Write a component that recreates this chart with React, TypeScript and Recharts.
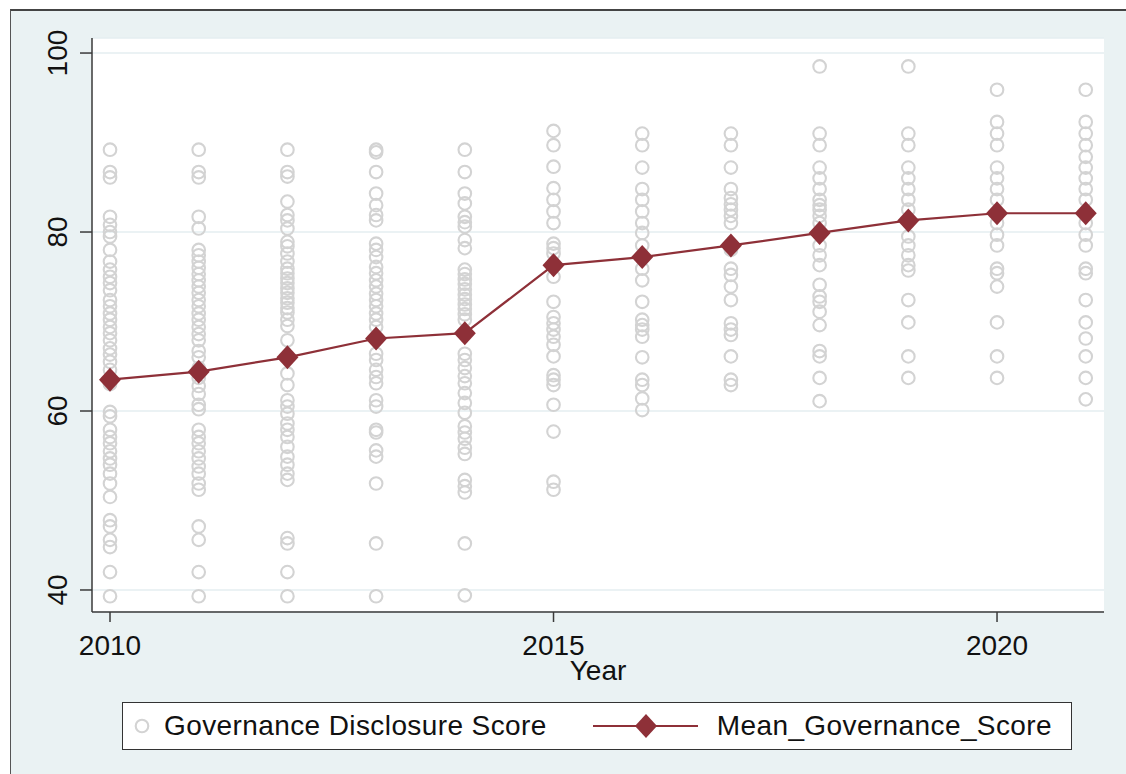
import React from 'react'
import { ComposedChart, Scatter, Line, XAxis, YAxis, CartesianGrid } from 'recharts'

const years = [2010, 2011, 2012, 2013, 2014, 2015, 2016, 2017, 2018, 2019, 2020, 2021]

const meanScore = [63.5, 64.4, 66.0, 68.1, 68.7, 76.3, 77.2, 78.5, 79.9, 81.3, 82.1, 82.1]

const scores2010 = [89.2, 86.7, 86.1, 81.7, 80.8, 80.0, 79.5, 78.0, 76.7, 75.8, 75.0, 74.3, 73.5, 72.4, 71.7, 70.9, 70.2, 69.4, 68.7, 67.9, 67.0, 66.3, 65.5, 64.6, 63.0, 59.9, 59.4, 57.9, 57.1, 56.4, 55.5, 54.7, 54.0, 53.0, 51.9, 50.4, 47.8, 47.1, 45.6, 44.8, 42.0, 39.3]
const scores2011 = [89.2, 86.7, 86.1, 81.7, 80.4, 78.0, 77.4, 76.7, 76.0, 75.3, 74.6, 73.9, 73.2, 72.4, 71.7, 70.9, 70.2, 69.4, 68.6, 67.9, 66.7, 66.0, 64.8, 63.7, 62.8, 61.9, 60.7, 60.2, 57.9, 57.1, 56.4, 55.5, 54.7, 53.8, 53.0, 51.9, 51.2, 47.1, 45.6, 42.0, 39.3]
const scores2012 = [89.2, 86.7, 86.2, 83.4, 81.9, 81.3, 80.4, 78.9, 78.4, 77.6, 76.7, 75.9, 75.4, 74.8, 74.3, 73.7, 73.2, 72.6, 72.1, 71.5, 71.0, 70.2, 69.5, 67.9, 64.2, 62.9, 61.2, 60.5, 59.7, 58.6, 57.9, 57.1, 56.0, 54.9, 54.0, 53.0, 52.3, 45.8, 45.2, 42.0, 39.3]
const scores2013 = [89.2, 88.9, 86.7, 84.3, 83.0, 81.9, 81.3, 78.7, 78.0, 77.2, 76.1, 75.4, 74.6, 73.9, 73.1, 72.4, 71.7, 70.9, 70.2, 69.4, 66.4, 65.7, 64.6, 63.8, 63.1, 61.2, 60.5, 57.9, 57.6, 55.6, 54.9, 51.9, 45.2, 39.3]
const scores2014 = [89.2, 86.7, 84.3, 83.2, 81.7, 81.1, 80.6, 79.1, 78.2, 75.8, 75.3, 74.7, 74.2, 73.6, 73.0, 72.5, 71.9, 71.4, 70.8, 70.2, 66.4, 65.7, 64.8, 63.9, 63.1, 62.0, 60.9, 59.8, 58.3, 57.6, 56.9, 55.9, 55.2, 52.3, 51.6, 50.9, 45.2, 39.4]
const scores2015 = [91.3, 89.7, 87.3, 84.9, 83.6, 82.3, 81.0, 78.7, 78.2, 77.6, 75.0, 72.2, 70.5, 69.8, 69.1, 68.3, 67.4, 66.1, 64.0, 63.5, 62.9, 60.7, 57.7, 52.1, 51.2]
const scores2016 = [91.0, 89.7, 87.2, 84.8, 83.6, 82.3, 81.0, 79.9, 78.5, 75.9, 74.6, 72.2, 70.2, 69.6, 69.1, 68.3, 66.0, 63.5, 62.9, 61.4, 60.1]
const scores2017 = [91.0, 89.7, 87.2, 84.8, 83.8, 83.1, 82.5, 81.8, 81.0, 78.0, 75.9, 75.2, 73.9, 72.4, 69.8, 69.1, 68.5, 66.1, 63.5, 62.9]
const scores2018 = [98.5, 91.0, 89.7, 87.2, 86.0, 84.8, 83.6, 83.0, 82.5, 81.8, 81.0, 78.5, 77.4, 76.3, 74.1, 72.8, 72.2, 71.1, 69.6, 66.7, 66.1, 63.7, 61.1]
const scores2019 = [98.5, 91.0, 89.7, 87.2, 86.0, 84.8, 83.6, 82.5, 79.5, 78.5, 77.4, 76.3, 75.7, 72.4, 69.9, 66.1, 63.7]
const scores2020 = [95.9, 92.3, 91.0, 89.7, 87.2, 86.0, 84.8, 83.6, 81.0, 79.7, 78.5, 75.9, 75.4, 73.9, 69.9, 66.1, 63.7]
const scores2021 = [95.9, 92.3, 91.0, 89.7, 88.4, 87.2, 86.0, 84.8, 83.6, 81.0, 79.7, 78.5, 75.9, 75.4, 72.4, 69.9, 68.1, 66.1, 63.7, 61.3]

const scoresByYear = [scores2010, scores2011, scores2012, scores2013, scores2014, scores2015, scores2016, scores2017, scores2018, scores2019, scores2020, scores2021]

const xTicks = [2010, 2015, 2020]
const yTicks = [40, 60, 80, 100]

const scatterData = years.flatMap((year, i) => scoresByYear[i].map((score) => ({ year, score })))
const meanData = years.map((year, i) => ({ year, mean: meanScore[i] }))

const FONT = '"Liberation Sans", Arial, sans-serif'
const RED = '#8e3038'
const GREY = '#d3d3d3'

const HollowCircle = (props: any) => {
    const { cx, cy } = props
    if (cx == null || cy == null) return null
    return <circle cx={cx} cy={cy} r={6.3} fill="none" stroke={GREY} strokeWidth={2.1} />
}

const Diamond = (props: any) => {
    const { cx, cy, index } = props
    if (cx == null || cy == null) return <g key={index} />
    const w = 11
    const h = 12
    return (
        <polygon
            key={index}
            points={`${cx},${cy - h} ${cx + w},${cy} ${cx},${cy + h} ${cx - w},${cy}`}
            fill={RED}
            stroke="none"
        />
    )
}

const YTick = (props: any) => {
    const { x, y, payload } = props
    return (
        <text
            x={x}
            y={y}
            transform={`rotate(-90 ${x} ${y})`}
            textAnchor="middle"
            fontSize={28}
            fontFamily={FONT}
            fill="#111"
        >
            {payload.value}
        </text>
    )
}

const XTick = (props: any) => {
    const { x, y, payload } = props
    return (
        <text x={x} y={y + 33} textAnchor="middle" fontSize={28} fontFamily={FONT} fill="#111">
            {payload.value}
        </text>
    )
}

export default function App() {
    return (
        <div style={{ position: 'relative', width: 1126, height: 774, background: '#fff', overflow: 'hidden' }}>
            <style>{'body{margin:0}'}</style>
            <div
                style={{
                    position: 'absolute',
                    left: 10,
                    top: 9,
                    right: 0,
                    bottom: 0,
                    background: '#eaf2f3',
                    borderTop: '2px solid #444',
                    borderLeft: '1px solid #555',
                }}
            />
            <div style={{ position: 'absolute', left: 0, top: 0 }}>
                <ComposedChart width={1126} height={774} margin={{ top: 38, right: 22, bottom: 122, left: 32 }}>
                    <CartesianGrid vertical={false} fill="#ffffff" stroke="#e4eef0" strokeWidth={1.5} />
                    <XAxis
                        dataKey="year"
                        type="number"
                        domain={[2009.797, 2021.206]}
                        allowDataOverflow
                        ticks={xTicks}
                        height={40}
                        tickSize={10}
                        tickMargin={0}
                        stroke="#3a3a3a"
                        strokeWidth={1.5}
                        tick={<XTick />}
                        label={(p: any) => {
                            const vb = p.viewBox
                            return (
                                <text
                                    x={vb.x + vb.width / 2}
                                    y={vb.y + 68}
                                    textAnchor="middle"
                                    fontSize={28}
                                    fontFamily={FONT}
                                    fill="#111"
                                >
                                    Year
                                </text>
                            )
                        }}
                    />
                    <YAxis
                        type="number"
                        domain={[37.54, 101.68]}
                        allowDataOverflow
                        ticks={yTicks}
                        width={60}
                        tickSize={12}
                        tickMargin={13}
                        stroke="#3a3a3a"
                        strokeWidth={1.5}
                        tick={<YTick />}
                    />
                    <Scatter
                        name="Governance Disclosure Score"
                        data={scatterData}
                        dataKey="score"
                        shape={<HollowCircle />}
                        isAnimationActive={false}
                    />
                    <Line
                        name="Mean_Governance_Score"
                        data={meanData}
                        dataKey="mean"
                        type="linear"
                        stroke={RED}
                        strokeWidth={2.2}
                        dot={(p: any) => <Diamond {...p} key={p.index} />}
                        activeDot={false}
                        isAnimationActive={false}
                    />
                </ComposedChart>
            </div>
            <div
                style={{
                    position: 'absolute',
                    left: 122,
                    top: 702,
                    width: 950,
                    height: 48,
                    boxSizing: 'border-box',
                    background: '#fff',
                    border: '1px solid #333',
                    display: 'flex',
                    alignItems: 'center',
                    fontFamily: FONT,
                    fontSize: 28,
                    letterSpacing: 0.4,
                    color: '#111',
                    whiteSpace: 'nowrap',
                }}
            >
                <svg width={40} height={48}>
                    <circle cx={19} cy={24} r={6.3} fill="none" stroke={GREY} strokeWidth={2.1} />
                </svg>
                <span style={{ marginLeft: 1 }}>Governance Disclosure Score</span>
                <svg width={110} height={48} style={{ marginLeft: 46 }}>
                    <line x1={0} y1={24} x2={105} y2={24} stroke={RED} strokeWidth={2.2} />
                    <polygon points="53,12 64,24 53,36 42,24" fill={RED} />
                </svg>
                <span style={{ marginLeft: 14 }}>Mean_Governance_Score</span>
            </div>
        </div>
    )
}
